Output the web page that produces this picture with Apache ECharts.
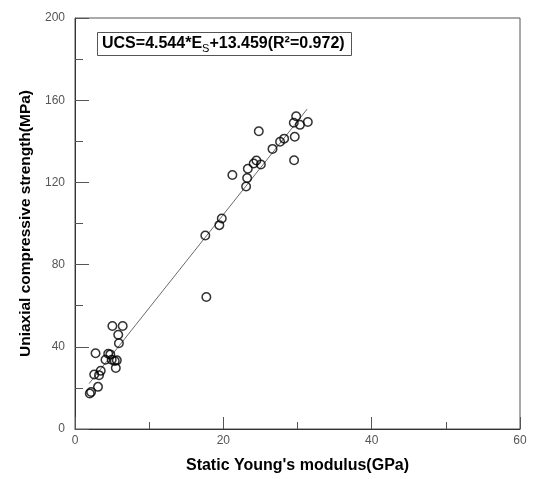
<!DOCTYPE html>
<html>
<head>
<meta charset="utf-8">
<script src="https://cdn.jsdelivr.net/npm/echarts@6/dist/echarts.min.js"></script>
<style>
html,body{margin:0;padding:0;background:#fff;}
#chart{width:539px;height:479px;}
</style>
</head>
<body>
<div id="chart"></div>
<script>
// Static Young's modulus (GPa)
var esValues = [1.99, 2.17, 2.77, 2.59, 3.24, 3.47, 3.10, 4.11, 4.48, 4.76, 4.95, 5.36, 5.64, 5.50, 5.04, 6.43, 5.83, 5.92,
  17.57, 17.71, 19.46, 19.79, 21.22, 23.07, 23.21, 23.30, 24.09, 24.46, 25.06, 24.78, 26.63, 27.65, 28.20,
  29.50, 29.82, 30.33, 31.39, 29.63, 29.54];
// Uniaxial compressive strength (MPa)
var ucsValues = [17.3, 18.0, 36.9, 26.5, 26.2, 28.3, 20.5, 33.7, 36.6, 36.3, 33.7, 33.1, 33.4, 29.7, 50.1, 50.1, 45.9, 41.7,
  94.2, 64.2, 99.2, 102.4, 123.6, 118.0, 122.1, 126.6, 129.2, 130.7, 128.7, 144.9, 136.3, 139.8, 141.3,
  149.0, 152.2, 148.0, 149.4, 142.2, 130.8];
// regression line: UCS = slope * Es + intercept, drawn across this Es range
var fitSlope = 4.544;
var fitIntercept = 13.459;
var fitRange = [1.9, 31.3];
var xTicks = [0, 20, 40, 60];
var yTicks = [0, 40, 80, 120, 160, 200];

var points = esValues.map(function (x, i) { return [x, ucsValues[i]]; });
var fitLine = fitRange.map(function (x) { return [x, fitSlope * x + fitIntercept]; });

var chart = echarts.init(document.getElementById('chart'));
chart.setOption({
  animation: false,
  backgroundColor: '#fff',
  title: {
    left: 97, top: 32,
    borderColor: '#555', borderWidth: 1,
    padding: [2, 7, 2, 5],
    text: 'UCS=4.544*E{sub|S}+13.459(R²=0.972)',
    textStyle: {
      fontFamily: 'Liberation Sans, Arial, sans-serif',
      fontWeight: 'bold', fontSize: 16, color: '#000', lineHeight: 20,
      rich: {
        sub: { fontFamily: 'Liberation Sans, Arial, sans-serif', fontSize: 11, fontWeight: 'normal', color: '#000', lineHeight: 10, verticalAlign: 'bottom' }
      }
    }
  },
  grid: { left: 75, right: 19, top: 18, bottom: 47, show: true, borderColor: '#555', borderWidth: 1 },
  xAxis: {
    type: 'value', min: 0, max: 60, interval: 20,
    name: "Static Young's modulus(GPa)", nameLocation: 'middle', nameGap: 29,
    nameTextStyle: { fontFamily: 'Liberation Sans, Arial, sans-serif', fontWeight: 'bold', fontSize: 16, color: '#000' },
    axisLine: { show: true, lineStyle: { color: '#333', width: 1 } },
    axisTick: { show: true, inside: true, length: 12, lineStyle: { color: '#555' } },
    minorTick: { show: true, splitNumber: 2, length: 7, lineStyle: { color: '#555' } },
    axisLabel: { margin: 6, color: '#555', fontSize: 12, fontFamily: 'Liberation Sans, Arial, sans-serif' },
    splitLine: { show: false }
  },
  yAxis: {
    type: 'value', min: 0, max: 200, interval: 40,
    name: 'Uniaxial compressive strength(MPa)', nameLocation: 'middle', nameGap: 40,
    nameTextStyle: { fontFamily: 'Liberation Sans, Arial, sans-serif', fontWeight: 'bold', fontSize: 15.5, color: '#000' },
    axisLine: { show: true, lineStyle: { color: '#333', width: 1 } },
    axisTick: { show: true, inside: true, length: 14, lineStyle: { color: '#555' } },
    minorTick: { show: true, splitNumber: 2, length: 8, lineStyle: { color: '#555' } },
    axisLabel: { margin: 10, color: '#555', fontSize: 12, fontFamily: 'Liberation Sans, Arial, sans-serif' },
    splitLine: { show: false }
  },
  series: [
    {
      type: 'line', data: fitLine, symbol: 'none', silent: true,
      lineStyle: { color: '#444', width: 0.8 }, z: 1
    },
    {
      type: 'scatter', data: points, symbol: 'circle', symbolSize: 8.5,
      itemStyle: { color: 'rgba(255,255,255,0)', borderColor: '#000', borderWidth: 1.5 }, z: 2
    }
  ]
});
</script>
</body>
</html>
